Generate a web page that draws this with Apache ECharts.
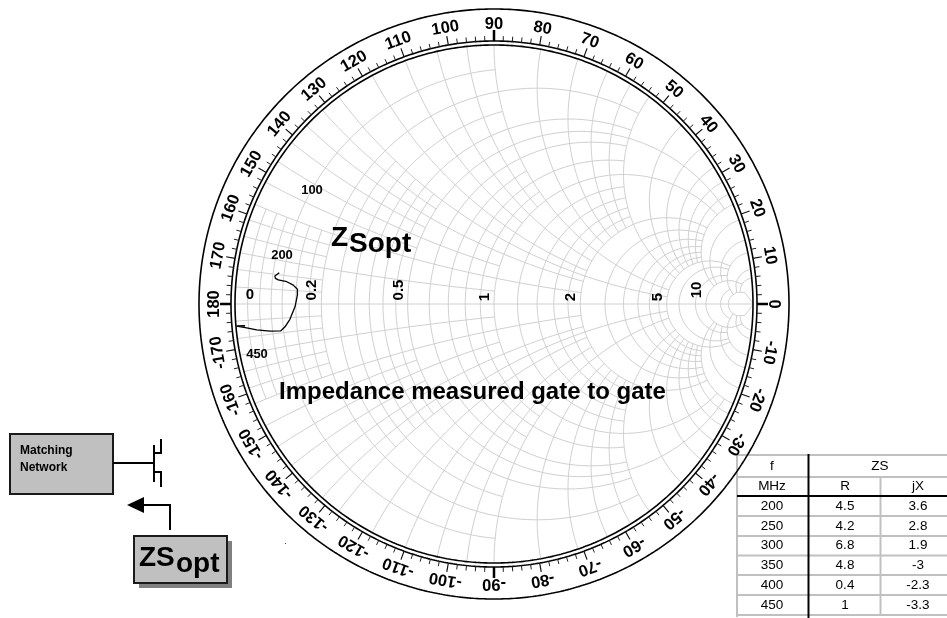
<!DOCTYPE html>
<html>
<head>
<meta charset="utf-8">
<title>Impedance measured gate to gate</title>
<style>
  html, body { margin: 0; padding: 0; background: #fff; }
  #chart { width: 947px; height: 618px; }
</style>
<script src="https://cdn.jsdelivr.net/npm/echarts@6/dist/echarts.min.js"></script>
</head>
<body>
<div id="chart"></div>
<script>
// grid circles: [value, limit], resistance circles stop at reactance = limit and the other way round
const resistanceLines = [
  [0.025, 0.2], [0.05, 0.2], [0.075, 0.2], [0.1, 1], [0.133, 0.2], [0.167, 0.2],
  [0.2, 2], [0.25, 0.5], [0.3, 1], [0.35, 0.5], [0.4, 2], [0.45, 0.5], [0.5, 5], [0.6, 2], [0.7, 1], [0.8, 2], [0.9, 1],
  [1, 5], [1.2, 2], [1.4, 2], [1.6, 2], [1.8, 2], [2, 5], [2.5, 5], [3, 5], [3.5, 5], [4, 5], [4.5, 5],
  [5, 10], [6, 10], [8, 10], [10, 20], [15, 10], [20, 1000]
];
const reactanceLines = [
  [0.033, 0.2], [0.067, 0.2], [0.1, 1], [0.133, 0.2], [0.167, 0.2],
  [0.2, 2], [0.25, 0.5], [0.3, 1], [0.35, 0.5], [0.4, 2], [0.45, 0.5], [0.5, 5], [0.6, 2], [0.7, 1], [0.8, 2], [0.9, 1],
  [1, 5], [1.2, 2], [1.4, 2], [1.6, 2], [1.8, 2], [2, 5], [2.5, 5], [3, 5], [3.5, 5], [4, 5], [4.5, 5],
  [5, 10], [6, 10], [8, 10], [10, 20], [15, 20], [20, 20]
];
const scaleLabels = ['0.2', '0.5', '1', '2', '5', '10'];
const scaleValues = [0.2, 0.5, 1, 2, 5, 10];

const rimLabels = [180, 170, 160, 150, 140, 130, 120, 110, 100, 90, 80, 70, 60, 50, 40, 30, 20, 10, 0,
  -10, -20, -30, -40, -50, -60, -70, -80, -90, -100, -110, -120, -130, -140, -150, -160, -170];

// measured curve, reflection coefficient [re, im]
const curveRe = [-0.829, -0.846, -0.844, -0.833, -0.800, -0.775, -0.759, -0.759, -0.768, -0.788, -0.807, -0.824, -0.865, -0.916, -0.955, -0.994, -0.961];
const curveIm = [0.121, 0.108, 0.099, 0.093, 0.086, 0.073, 0.057, 0.035, -0.010, -0.059, -0.088, -0.104, -0.105, -0.100, -0.092, -0.085, -0.084];

// table
const tableFreq = ['200', '250', '300', '350', '400', '450'];
const tableR = ['4.5', '4.2', '6.8', '4.8', '0.4', '1'];
const tableX = ['3.6', '2.8', '1.9', '-3', '-2.3', '-3.3'];

const W = 947, H = 618;
const CX = 494, CY = 304, RAD = 259;
const FONT = '"Liberation Sans", Arial, sans-serif';
const GAP = ['-', '-'];

function gamma(r, x) {
  const d = (r + 1) * (r + 1) + x * x;
  return [(r * r + x * x - 1) / d, 2 * x / d];
}

function gridLines() {
  const pts = [];
  const n = 48;
  resistanceLines.forEach(([r, lim]) => {
    const tMax = Math.atan(lim);
    for (let i = -n; i <= n; i++) {
      pts.push(gamma(r, Math.tan(tMax * i / n)));
    }
    pts.push(GAP);
  });
  reactanceLines.forEach(([x, lim]) => {
    const tMax = Math.atan(lim);
    [1, -1].forEach(sign => {
      for (let i = 0; i <= n; i++) {
        pts.push(gamma(Math.tan(tMax * i / n), sign * x));
      }
      pts.push(GAP);
    });
  });
  pts.push([-1, 0], [1, 0]);
  return pts;
}

function ring(k) {
  const pts = [];
  for (let a = 0; a <= 720; a++) {
    const t = a / 2 * Math.PI / 180;
    pts.push([k * Math.cos(t), k * Math.sin(t)]);
  }
  return pts;
}

function ticks(list, fromPx, toPx) {
  const pts = [];
  list.forEach(deg => {
    const t = deg * Math.PI / 180;
    pts.push([fromPx / RAD * Math.cos(t), fromPx / RAD * Math.sin(t)]);
    pts.push([toPx / RAD * Math.cos(t), toPx / RAD * Math.sin(t)]);
    pts.push(GAP);
  });
  return pts;
}

const minorDegs = [];
for (let d = -178; d <= 180; d += 2) {
  if (d % 10 !== 0) minorDegs.push(d);
}
const majorDegs = rimLabels.filter(d => d % 90 !== 0);
const cardinalDegs = rimLabels.filter(d => d % 90 === 0);

function lineSeries(data, color, width, z) {
  return {
    type: 'line', data, z, silent: true, animation: false, showSymbol: false, symbol: 'none',
    clip: false, lineStyle: { color, width, cap: 'butt' }
  };
}

function txt(text, x, y, size, bold, extra) {
  return {
    type: 'text', x, y, silent: true,
    rotation: extra && extra.rotation || 0,
    style: {
      text, fill: '#000', fontFamily: FONT, fontSize: size,
      fontWeight: bold ? 'bold' : 'normal',
      align: extra && extra.align || 'center', verticalAlign: 'middle'
    }
  };
}

function line(x1, y1, x2, y2, color, width) {
  return { type: 'line', silent: true, shape: { x1, y1, x2, y2 }, style: { stroke: color, lineWidth: width } };
}

function poly(points, color, width) {
  return { type: 'polyline', silent: true, shape: { points }, style: { stroke: color, lineWidth: width, fill: null } };
}

function box(x, y, w, h, fill, stroke) {
  return { type: 'rect', silent: true, shape: { x, y, width: w, height: h }, style: { fill, stroke: stroke || null, lineWidth: stroke ? 2 : 0 } };
}

function tableElements() {
  const els = [box(737, 455, 210, 163, '#fff')];
  const grey = '#c0c0c0';
  const rows = [455, 477, 516, 536, 555.5, 575, 595, 615];
  rows.forEach(y => els.push(line(737, y, 947, y, grey, 2)));
  els.push(line(737, 454, 737, 617, grey, 2));
  els.push(line(880.5, 477, 880.5, 616, grey, 2));
  els.push(line(737, 496, 947, 496, '#000', 2));
  els.push(line(808.5, 454, 808.5, 618, '#000', 2));
  els.push(txt('f', 772, 466, 13.5));
  els.push(txt('ZS', 880, 466, 13.5));
  els.push(txt('MHz', 772, 486, 13.5));
  els.push(txt('R', 845, 486, 13.5));
  els.push(txt('jX', 918, 486, 13.5));
  tableFreq.forEach((f, i) => {
    const y = 506 + i * 19.8;
    els.push(txt(f, 772, y, 13.5));
    els.push(txt(tableR[i], 845, y, 13.5));
    els.push(txt(tableX[i], 918, y, 13.5));
  });
  return els;
}

function schematic() {
  return [
    box(10, 434, 103, 60, '#c0c0c0', '#1a1a1a'),
    txt('Matching', 20, 451, 12, true, { align: 'left' }),
    txt('Network', 20, 468, 12, true, { align: 'left' }),
    line(113, 463, 154, 463, '#000', 2),
    line(154, 445, 154, 482, '#000', 2),
    poly([[154, 453], [161, 453], [161, 439]], '#000', 2),
    poly([[154, 472], [161, 472], [161, 487]], '#000', 2),
    poly([[170, 530], [170, 505], [143, 505]], '#000', 2),
    { type: 'polygon', silent: true, shape: { points: [[127, 505], [144, 497], [144, 513]] }, style: { fill: '#000' } },
    box(139, 541, 93, 47, '#808080'),
    box(134, 536, 93, 47, '#c0c0c0', '#1a1a1a'),
    txt('ZS', 139, 558, 28, true, { align: 'left' }),
    txt('opt', 176, 564, 28, true, { align: 'left' }),
    box(285, 543, 1, 1, '#444')
  ];
}

// texts lying on the chart go in a custom series so they stay above the grid lines
function annotations() {
  return [
    txt('100', 312, 190, 13, true),
    txt('200', 282, 255, 13, true),
    txt('0', 250, 295, 15, true),
    txt('450', 257, 354, 13, true),
    txt('Z', 331, 238, 28, true, { align: 'left' }),
    txt('Sopt', 349, 244, 28, true, { align: 'left' }),
    txt('Impedance measured gate to gate', 472.5, 392, 24, true)
  ];
}

const chart = echarts.init(document.getElementById('chart'), null, { renderer: 'canvas' });

chart.setOption({
  animation: false,
  backgroundColor: '#fff',
  grid: { left: 0, right: 0, top: 0, bottom: 0 },
  xAxis: { type: 'value', min: -CX / RAD, max: (W - CX) / RAD, show: false },
  yAxis: { type: 'value', min: (CY - H) / RAD, max: CY / RAD, show: false },
  series: [
    lineSeries(gridLines(), '#d0d0d0', 1, 1),
    lineSeries(ring(1), '#000', 1.6, 2),
    lineSeries(ring(263 / RAD), '#000', 1.6, 2),
    lineSeries(ring(295 / RAD), '#000', 1.6, 2),
    lineSeries(ticks(minorDegs, 263, 268), '#222', 1, 2),
    lineSeries(ticks(majorDegs, 263, 272), '#111', 1.2, 2),
    lineSeries(ticks(cardinalDegs, 263, 274), '#000', 2.5, 2),
    lineSeries(curveRe.map((re, i) => [re, curveIm[i]]), '#000', 1.3, 3),
    {
      type: 'custom', silent: true, animation: false, clip: false, z: 4,
      coordinateSystem: 'cartesian2d',
      data: rimLabels.map(d => [280 / RAD * Math.cos(d * Math.PI / 180), 280 / RAD * Math.sin(d * Math.PI / 180), d]),
      renderItem(params, api) {
        const p = api.coord([api.value(0), api.value(1)]);
        const d = api.value(2);
        return {
          type: 'text', x: p[0], y: p[1], rotation: (d - 90) * Math.PI / 180,
          style: { text: String(d), fill: '#000', fontFamily: FONT, fontSize: 16.5, fontWeight: 'bold', align: 'center', verticalAlign: 'middle' }
        };
      }
    },
    {
      type: 'custom', silent: true, animation: false, clip: false, z: 4,
      coordinateSystem: 'cartesian2d',
      data: scaleValues.map((v, i) => [gamma(v, 0)[0], 0, i]),
      renderItem(params, api) {
        const p = api.coord([api.value(0), api.value(1)]);
        const i = api.value(2);
        return {
          type: 'text', x: p[0] - 9, y: p[1] - (scaleLabels[i].length > 1 ? 14 : 7), rotation: Math.PI / 2,
          style: { text: scaleLabels[i], fill: '#000', fontFamily: FONT, fontSize: 15, fontWeight: 'bold', align: 'center', verticalAlign: 'middle' }
        };
      }
    },
    {
      type: 'custom', silent: true, animation: false, clip: false, z: 5,
      coordinateSystem: 'none',
      data: annotations().map((a, i) => [i]),
      renderItem(params) {
        return annotations()[params.dataIndex];
      }
    }
  ],
  graphic: { z: 100, elements: schematic().concat(tableElements()) }
});
</script>
</body>
</html>
